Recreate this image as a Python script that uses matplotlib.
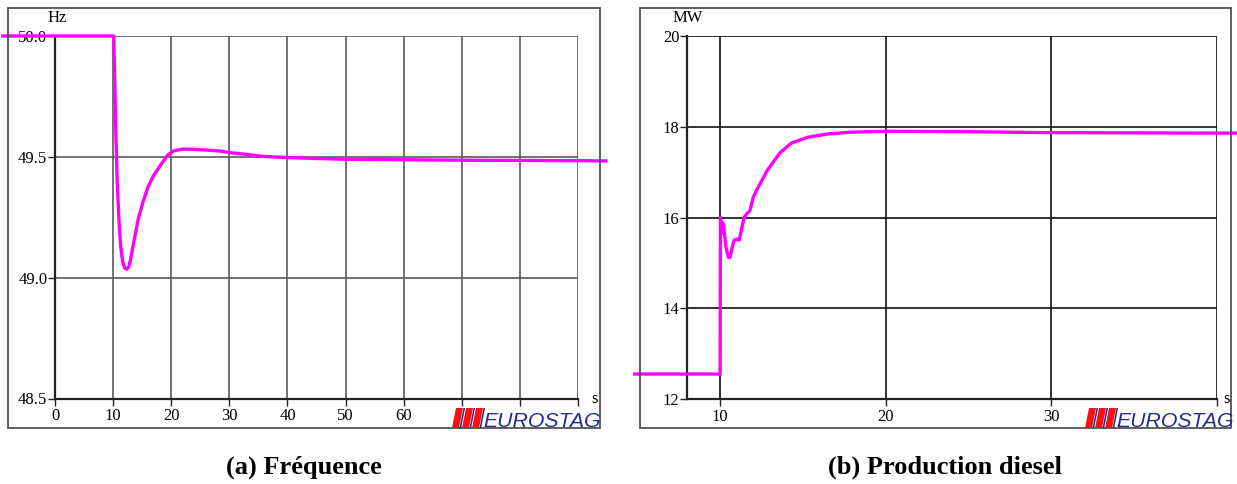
import matplotlib
matplotlib.use("Agg")
import matplotlib.pyplot as plt
from matplotlib.patches import Rectangle, Polygon

plt.rcParams["font.family"] = ["Liberation Serif", "DejaVu Serif"]

# ── data ──────────────────────────────────────────────────────────────────────
freq_t = [-9, 10.1, 10.25, 10.45, 10.7, 11.0, 11.3, 11.65, 12.0, 12.35, 12.7,
          13.0, 13.5, 14.3, 15.1, 16.0, 16.9, 18.4, 19.5, 20.5, 22.0, 24.0,
          26.0, 28.4, 30.2, 33.0, 35.3, 38.0, 40.2, 45.0, 50.2, 60.0, 70.0,
          80.0, 90.0, 94.8]
freq_hz = [50.0, 50.0, 49.85, 49.62, 49.40, 49.24, 49.13, 49.065, 49.04, 49.035,
           49.045, 49.075, 49.14, 49.24, 49.31, 49.375, 49.42, 49.474, 49.51,
           49.525, 49.532, 49.531, 49.528, 49.524, 49.517, 49.51, 49.503,
           49.499, 49.497, 49.493, 49.49, 49.488, 49.486, 49.485, 49.484, 49.483]

diesel_t = [4.85, 10.0, 10.02, 10.07, 10.12, 10.2, 10.35, 10.5, 10.6, 10.75,
            10.85, 11.0, 11.15, 11.3, 11.45, 11.6, 11.8, 12.0, 12.3, 12.85,
            13.6, 14.3, 15.3, 16.5, 17.9, 20.0, 25.0, 30.0, 35.0, 40.0, 41.2]
diesel_mw = [12.55, 12.55, 16.0, 15.65, 15.9, 15.85, 15.35, 15.12, 15.12, 15.38,
             15.5, 15.52, 15.5, 15.75, 16.0, 16.08, 16.15, 16.45, 16.67, 17.04,
             17.42, 17.64, 17.77, 17.84, 17.88, 17.9, 17.89, 17.87, 17.865,
             17.86, 17.86]

freq_xticks = [0, 10, 20, 30, 40, 50, 60, 70, 80, 90]
freq_xlabels = ["0", "10", "20", "30", "40", "50", "60", "", "", ""]
freq_yticks = [48.5, 49.0, 49.5, 50.0]
freq_ylabels = ["48.5", "49.0", "49.5", "50.0"]

diesel_xticks = [10, 20, 30, 40]
diesel_xlabels = ["10", "20", "30", ""]
diesel_yticks = [12, 14, 16, 18, 20]
diesel_ylabels = ["12", "14", "16", "18", "20"]

W, H = 1237, 484
MAGENTA = "#ff00ff"


def fx(px):
    return px / W


def fy(py):
    return 1 - py / H


def style_axes(ax, grid_color):
    for side in ("top", "right"):
        ax.spines[side].set_visible(False)
    for side in ("left", "bottom"):
        ax.spines[side].set_color("#222222")
        ax.spines[side].set_linewidth(1.6)
    ax.grid(True, color=grid_color, linewidth=1.2)
    ax.set_axisbelow(True)
    ax.tick_params(direction="out", length=5, width=1, labelsize=12,
                   color="#222222", pad=2)
    ax.tick_params(axis="y", pad=0.5)


def draw_logo(fig, x0, top, bottom):
    # red slanted bars with thin blue separators, then blue italic text
    for i in range(3):
        bx = x0 + i * 10
        fig.patches.append(Polygon(
            [(fx(bx), fy(bottom)), (fx(bx + 7), fy(bottom)),
             (fx(bx + 11), fy(top)), (fx(bx + 4), fy(top))],
            closed=True, transform=fig.transFigure, color="#ff1010", lw=0))
        sx = bx + 7.5
        fig.patches.append(Polygon(
            [(fx(sx), fy(bottom)), (fx(sx + 1.6), fy(bottom)),
             (fx(sx + 5.6), fy(top)), (fx(sx + 4), fy(top))],
            closed=True, transform=fig.transFigure, color="#1f2f8f", lw=0))
    fig.text(fx(x0 + 31), fy(bottom - 1), "EUROSTAG", ha="left", va="baseline",
             fontsize=15.3, style="italic", color="#1f2f8f",
             family=["Liberation Sans", "DejaVu Sans"])


fig = plt.figure(figsize=(W / 100, H / 100), dpi=100)

# outer frames
for x0, x1 in [(8, 600), (640, 1231)]:
    fig.patches.append(Rectangle((fx(x0), fy(428)), fx(x1 - x0), (428 - 8) / H,
                                 transform=fig.transFigure, fill=False,
                                 edgecolor="#444444", linewidth=1.2))

# ── (a) frequency ─────────────────────────────────────────────────────────────
ax1 = fig.add_axes([fx(55), fy(398.5), fx(578 - 55), (398.5 - 36) / H])
style_axes(ax1, "#5a5a5a")
ax1.plot(freq_t, freq_hz, color=MAGENTA, linewidth=2.4, clip_on=False, zorder=5)
ax1.set_xlim(0, 90)
ax1.set_ylim(48.5, 50.0)
ax1.set_xticks(freq_xticks)
ax1.set_xticklabels(freq_xlabels)
ax1.set_yticks(freq_yticks)
ax1.set_yticklabels(freq_ylabels)

fig.text(fx(57), fy(18), "Hz", ha="center", va="center", fontsize=12)
fig.text(fx(594), fy(399), "s", ha="center", va="center", fontsize=12)
draw_logo(fig, 452, 408, 428)
fig.text(fx(304), fy(467), "(a) Fréquence", ha="center", va="center",
         fontsize=19, fontweight="bold")

# ── (b) diesel production ─────────────────────────────────────────────────────
ax2 = fig.add_axes([fx(687), fy(399), fx(1217 - 687), (399 - 36) / H])
style_axes(ax2, "#111111")
ax2.plot(diesel_t, diesel_mw, color=MAGENTA, linewidth=2.4, clip_on=False, zorder=5)
ax2.set_xlim(8, 40)
ax2.set_ylim(12, 20)
ax2.set_xticks(diesel_xticks)
ax2.set_xticklabels(diesel_xlabels)
ax2.set_yticks(diesel_yticks)
ax2.set_yticklabels(diesel_ylabels)

fig.text(fx(688), fy(18), "MW", ha="center", va="center", fontsize=12)
fig.text(fx(1226), fy(399), "s", ha="center", va="center", fontsize=12)
draw_logo(fig, 1085, 408, 428)
fig.text(fx(945), fy(467), "(b) Production diesel", ha="center", va="center",
         fontsize=19, fontweight="bold")

fig.savefig("out.png", dpi=100)
